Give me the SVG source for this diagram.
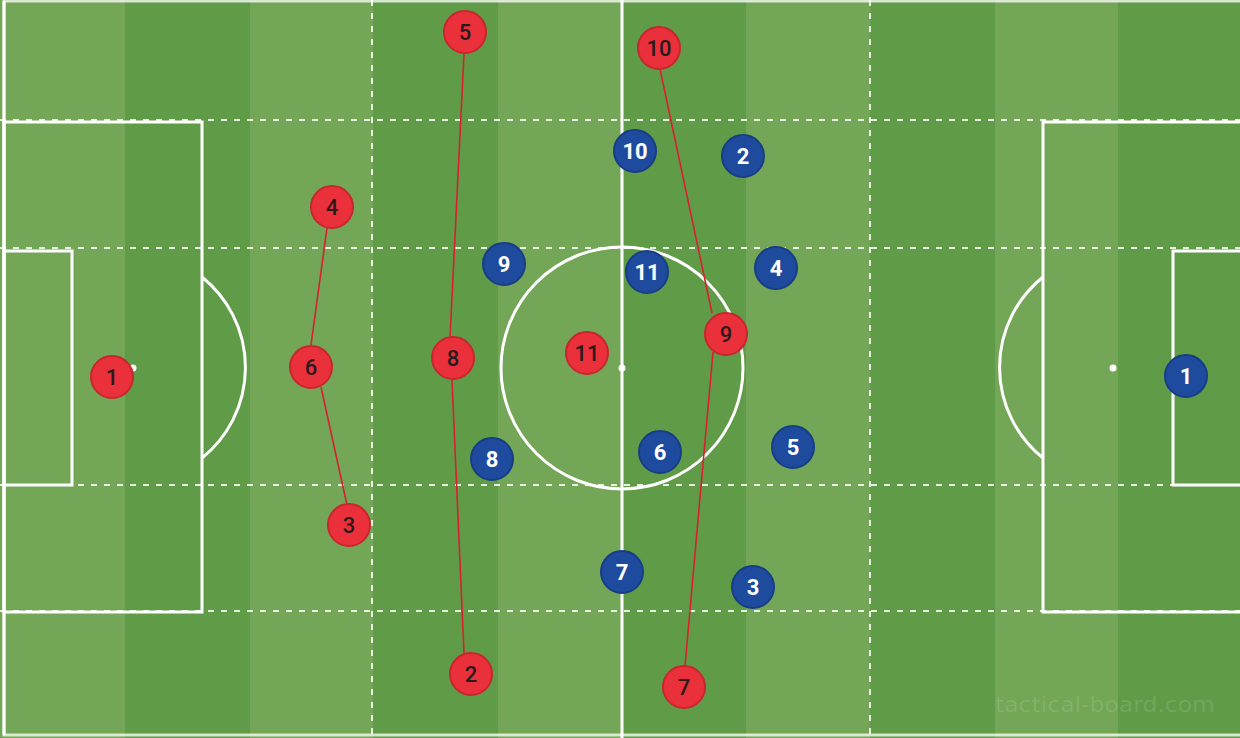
<svg xmlns="http://www.w3.org/2000/svg" width="1240" height="738" viewBox="0 0 1240 738">
<style>
.lt{fill:#73a656}
.dk{fill:#609b47}
.line{fill:none;stroke:#ffffff;stroke-width:3}
.dash{fill:none;stroke:#ffffff;stroke-opacity:0.85;stroke-width:2;stroke-dasharray:6 7}
.link{fill:none;stroke:#d7212f;stroke-width:1.6}
.red circle{fill:#ea303a;stroke:#c8262e;stroke-width:2}
.blue circle{fill:#1e4b9e;stroke:#173d85;stroke-width:2}
.red text{fill:#2a1a1c;font-family:Roboto,"Liberation Sans",sans-serif;font-size:22px;font-weight:500;text-anchor:middle;dominant-baseline:central}
.blue text{fill:#ffffff;font-family:Roboto,"Liberation Sans",sans-serif;font-size:22px;font-weight:700;text-anchor:middle;dominant-baseline:central}
</style>
<g id="pitch">
<rect class="lt" x="0" y="0" width="1240" height="738"/>
<rect class="dk" x="125" y="0" width="125" height="738"/>
<rect class="dk" x="373" y="0" width="125" height="738"/>
<rect class="dk" x="622" y="0" width="124" height="738"/>
<rect class="dk" x="870" y="0" width="125" height="738"/>
<rect class="dk" x="1118" y="0" width="122" height="738"/>
<line class="dash" x1="0" y1="120" x2="1240" y2="120"/>
<line class="dash" x1="0" y1="248" x2="1240" y2="248"/>
<line class="dash" x1="0" y1="485" x2="1240" y2="485"/>
<line class="dash" x1="0" y1="611" x2="1240" y2="611"/>
<line class="dash" x1="372" y1="0" x2="372" y2="738"/>
<line class="dash" x1="870" y1="0" x2="870" y2="738"/>
<rect class="line" x="4" y="1" width="1240" height="734" stroke-opacity="0.75"/>
<line class="line" x1="4" y1="1" x2="4" y2="735"/>
<line class="line" x1="622" y1="0" x2="622" y2="738"/>
<circle class="line" cx="622" cy="368" r="121" stroke-width="2.5"/>
<circle cx="622" cy="368" r="3.5" fill="#ffffff"/>
<rect class="line" x="4" y="122" width="198" height="490"/>
<rect class="line" x="4" y="251" width="68" height="234"/>
<path class="line" d="M202,277 A116,116 0 0 1 202,458"/>
<circle cx="133" cy="368" r="3.5" fill="#ffffff"/>
<rect class="line" x="1043" y="122" width="210" height="490"/>
<rect class="line" x="1173" y="251" width="80" height="234"/>
<path class="line" d="M1043,277 A116,116 0 0 0 1043,458"/>
<circle cx="1113" cy="368" r="3.5" fill="#ffffff"/>
<text x="1105" y="712" text-anchor="middle" font-family="'DejaVu Sans',sans-serif" font-size="21" fill="#ffffff" fill-opacity="0.12" textLength="220" lengthAdjust="spacingAndGlyphs">tactical-board.com</text>
</g>
<g id="connectors">
<line class="link" x1="327" y1="228" x2="311" y2="345"/>
<line class="link" x1="321" y1="387" x2="347" y2="505"/>
<line class="link" x1="464" y1="54" x2="450" y2="338"/>
<line class="link" x1="452" y1="380" x2="464" y2="653"/>
<line class="link" x1="660" y1="69" x2="712" y2="313"/>
<line class="link" x1="713" y1="352" x2="685" y2="666"/>
</g>
<g id="red-1" class="red"><circle cx="112" cy="377" r="21"/><text x="112" y="377">1</text></g>
<g id="red-4" class="red"><circle cx="332" cy="207" r="21"/><text x="332" y="207">4</text></g>
<g id="red-6" class="red"><circle cx="311" cy="367" r="21"/><text x="311" y="367">6</text></g>
<g id="red-3" class="red"><circle cx="349" cy="525" r="21"/><text x="349" y="525">3</text></g>
<g id="red-5" class="red"><circle cx="465" cy="32" r="21"/><text x="465" y="32">5</text></g>
<g id="red-8" class="red"><circle cx="453" cy="358" r="21"/><text x="453" y="358">8</text></g>
<g id="red-2" class="red"><circle cx="471" cy="674" r="21"/><text x="471" y="674">2</text></g>
<g id="red-11" class="red"><circle cx="587" cy="353" r="21"/><text x="587" y="353">11</text></g>
<g id="red-10" class="red"><circle cx="659" cy="48" r="21"/><text x="659" y="48">10</text></g>
<g id="red-9" class="red"><circle cx="726" cy="334" r="21"/><text x="726" y="334">9</text></g>
<g id="red-7" class="red"><circle cx="684" cy="687" r="21"/><text x="684" y="687">7</text></g>
<g id="blue-10" class="blue"><circle cx="635" cy="151" r="21"/><text x="635" y="151">10</text></g>
<g id="blue-2" class="blue"><circle cx="743" cy="156" r="21"/><text x="743" y="156">2</text></g>
<g id="blue-9" class="blue"><circle cx="504" cy="264" r="21"/><text x="504" y="264">9</text></g>
<g id="blue-11" class="blue"><circle cx="647" cy="272" r="21"/><text x="647" y="272">11</text></g>
<g id="blue-4" class="blue"><circle cx="776" cy="268" r="21"/><text x="776" y="268">4</text></g>
<g id="blue-8" class="blue"><circle cx="492" cy="459" r="21"/><text x="492" y="459">8</text></g>
<g id="blue-6" class="blue"><circle cx="660" cy="452" r="21"/><text x="660" y="452">6</text></g>
<g id="blue-5" class="blue"><circle cx="793" cy="447" r="21"/><text x="793" y="447">5</text></g>
<g id="blue-7" class="blue"><circle cx="622" cy="572" r="21"/><text x="622" y="572">7</text></g>
<g id="blue-3" class="blue"><circle cx="753" cy="587" r="21"/><text x="753" y="587">3</text></g>
<g id="blue-1" class="blue"><circle cx="1186" cy="376" r="21"/><text x="1186" y="376">1</text></g>
</svg>
